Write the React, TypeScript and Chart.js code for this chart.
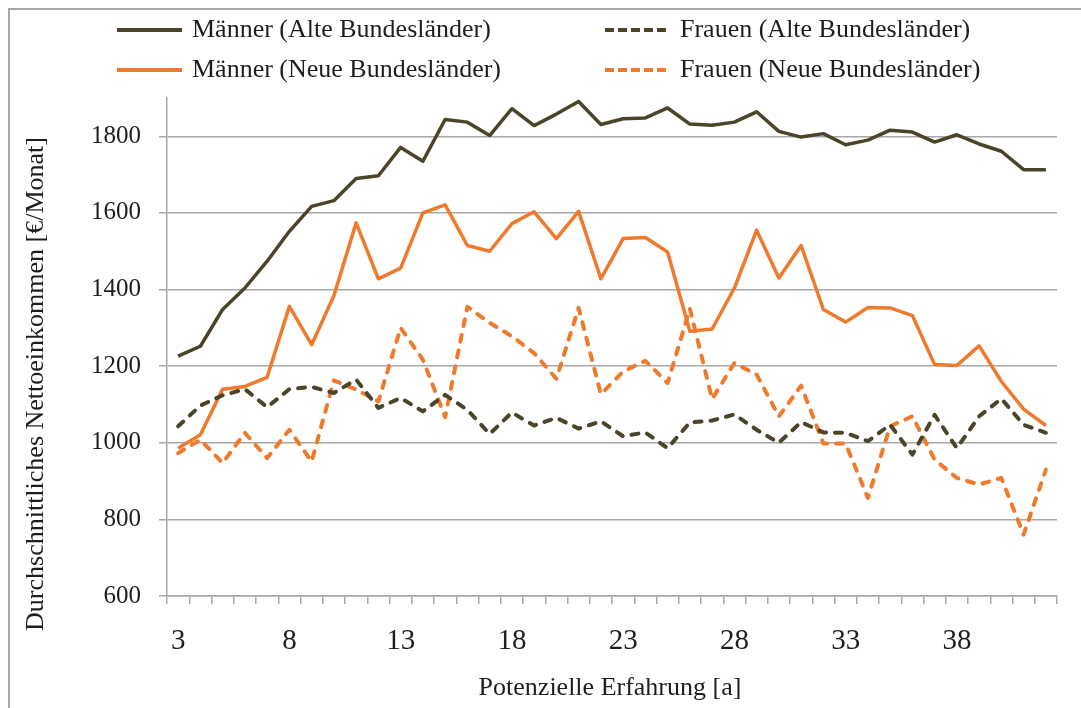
import React, { useEffect, useRef } from 'react';
import { Chart, registerables } from 'chart.js';

Chart.register(...registerables);

const categories = ['3', '4', '5', '6', '7', '8', '9', '10', '11', '12', '13', '14', '15', '16', '17', '18', '19', '20', '21', '22', '23', '24', '25', '26', '27', '28', '29', '30', '31', '32', '33', '34', '35', '36', '37', '38', '39', '40', '41', '42'];

const maennerAlt = [1226, 1252, 1348, 1404, 1474, 1552, 1617, 1632, 1690, 1697, 1771, 1735, 1844, 1837, 1802, 1872, 1828, 1858, 1891, 1831, 1846, 1848, 1874, 1832, 1829, 1837, 1864, 1813, 1798, 1807, 1778, 1790, 1816, 1811, 1785, 1804, 1780, 1761, 1713, 1713];
const frauenAlt = [1043, 1097, 1124, 1140, 1093, 1140, 1146, 1130, 1165, 1091, 1117, 1082, 1125, 1086, 1023, 1079, 1045, 1065, 1037, 1056, 1017, 1027, 986, 1053, 1058, 1074, 1034, 1000, 1054, 1027, 1026, 1004, 1047, 969, 1073, 986, 1069, 1115, 1047, 1026];
const maennerNeu = [986, 1021, 1140, 1147, 1171, 1356, 1256, 1384, 1574, 1428, 1456, 1600, 1621, 1515, 1500, 1572, 1603, 1533, 1604, 1428, 1533, 1536, 1498, 1291, 1297, 1404, 1555, 1430, 1515, 1348, 1315, 1353, 1352, 1332, 1204, 1202, 1253, 1160, 1088, 1045];
const frauenNeu = [973, 1008, 947, 1026, 960, 1034, 951, 1163, 1139, 1108, 1300, 1217, 1067, 1355, 1313, 1278, 1234, 1167, 1352, 1127, 1186, 1214, 1156, 1350, 1114, 1208, 1178, 1069, 1149, 998, 998, 856, 1043, 1069, 956, 908, 891, 908, 760, 930];

const seriesLabels = ['Männer (Alte Bundesländer)', 'Frauen (Alte Bundesländer)', 'Männer (Neue Bundesländer)', 'Frauen (Neue Bundesländer)'];
const xTitle = 'Potenzielle Erfahrung [a]';
const yTitle = 'Durchschnittliches Nettoeinkommen [€/Monat]';
const yMin = 600;
const yMax = 1900;
const yStep = 200;
const xLabelEvery = 5;

const FONT = '"Liberation Serif", "Times New Roman", serif';
const DARK = '#4b4428';
const ORANGE = '#ef7a2c';
const GRID = '#a8a8a8';
const TEXT = '#1e1e1e';

const overlayPlugin = {
  id: 'overlayText',
  afterDraw(chart: any) {
    const ctx = chart.ctx as CanvasRenderingContext2D;
    ctx.save();
    const colX = [117, 605];
    const rowY = [30, 70];
    chart.data.datasets.forEach((ds: any, i: number) => {
      const x0 = colX[i % 2];
      const y = rowY[Math.floor(i / 2)];
      ctx.strokeStyle = ds.borderColor;
      ctx.lineWidth = 4;
      ctx.lineCap = 'butt';
      ctx.setLineDash(ds.borderDash && ds.borderDash.length ? [9, 4] : []);
      ctx.beginPath();
      ctx.moveTo(x0, y);
      ctx.lineTo(x0 + 65, y);
      ctx.stroke();
      ctx.setLineDash([]);
      ctx.fillStyle = TEXT;
      ctx.font = `26px ${FONT}`;
      ctx.textAlign = 'left';
      ctx.textBaseline = 'middle';
      ctx.fillText(ds.label, x0 + 75, y);
    });
    // x axis title
    ctx.font = `26px ${FONT}`;
    ctx.fillStyle = TEXT;
    ctx.textAlign = 'center';
    ctx.textBaseline = 'middle';
    ctx.fillText(xTitle, 610, 688);
    // y axis title
    ctx.translate(36, 384);
    ctx.rotate(-Math.PI / 2);
    ctx.fillText(yTitle, 0, 0);
    ctx.restore();
  },
};

export default function App() {
  const ref = useRef<HTMLCanvasElement | null>(null);

  useEffect(() => {
    if (!ref.current) return;
    const mk = (label: string, data: number[], color: string, dashed: boolean) => ({
      label,
      data,
      borderColor: color,
      backgroundColor: color,
      borderWidth: dashed ? 4 : 3.5,
      borderDash: dashed ? [7, 9] : [],
      borderCapStyle: dashed ? 'round' : 'butt',
      borderJoinStyle: 'round',
      pointRadius: 0,
      tension: 0,
      fill: false,
    });
    const chart = new Chart(ref.current, {
      type: 'line',
      data: {
        labels: categories,
        datasets: [
          mk(seriesLabels[0], maennerAlt, DARK, false),
          mk(seriesLabels[1], frauenAlt, DARK, true),
          mk(seriesLabels[2], maennerNeu, ORANGE, false),
          mk(seriesLabels[3], frauenNeu, ORANGE, true),
        ] as any,
      },
      options: {
        responsive: false,
        animation: false,
        devicePixelRatio: 1,
        layout: { padding: { top: 98, right: 24, left: 0, bottom: 0 } },
        plugins: { legend: { display: false }, tooltip: { enabled: false }, title: { display: false } },
        scales: {
          x: {
            type: 'category',
            offset: true,
            grid: { display: true, drawOnChartArea: false, drawTicks: true, tickLength: 8, offset: true, color: GRID, lineWidth: 1.5 },
            border: { display: true, color: GRID, width: 1.5 },
            ticks: {
              autoSkip: false,
              maxRotation: 0,
              minRotation: 0,
              padding: 20,
              color: TEXT,
              font: { family: FONT, size: 29 },
              callback: (_v: any, i: number) => (i % xLabelEvery === 0 ? categories[i] : ''),
            },
            afterFit: (s: any) => { s.height = 112; },
          },
          y: {
            min: yMin,
            max: yMax,
            ticks: {
              stepSize: yStep,
              includeBounds: false,
              padding: 18,
              color: TEXT,
              font: { family: FONT, size: 25 },
              callback: (v: any) => String(v),
            },
            grid: { color: GRID, lineWidth: 1.5, tickLength: 8, drawTicks: true },
            border: { display: true, color: GRID, width: 1.5 },
            afterFit: (s: any) => { s.width = 167; },
          },
        },
      } as any,
      plugins: [overlayPlugin],
    });
    return () => chart.destroy();
  }, []);

  return (
    <div style={{ position: 'absolute', left: 0, top: 0, width: 1081, height: 708, overflow: 'hidden', background: '#fff' }}>
      <canvas ref={ref} width={1081} height={708} style={{ position: 'absolute', left: 0, top: 0, width: 1081, height: 708, display: 'block' }} />
      <div style={{ position: 'absolute', left: 8, top: 8, width: 1073, height: 700, boxSizing: 'border-box', borderLeft: '2px solid #a8a8a8', borderTop: '2px solid #a8a8a8', pointerEvents: 'none' }} />
    </div>
  );
}
